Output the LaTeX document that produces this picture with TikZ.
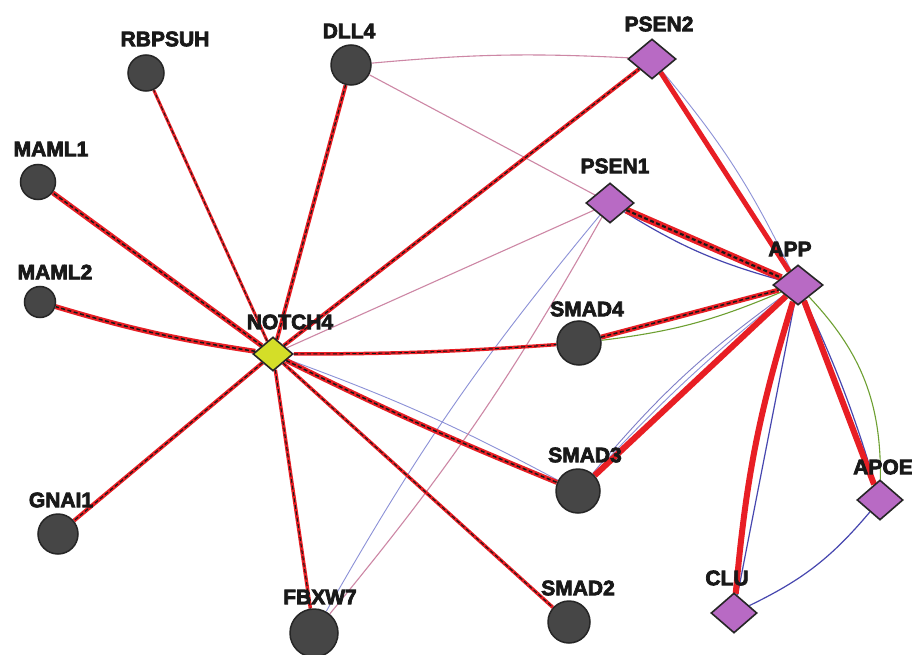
\documentclass[tikz,border=0pt]{standalone}
\usepackage{fontspec}
\setmainfont{Liberation Sans}
\newfontfamily\lblfont{Liberation Sans Bold}[FakeBold=3.5]
\usetikzlibrary{shapes.geometric,backgrounds}
\definecolor{ered}{RGB}{232,30,36}
\definecolor{epink}{RGB}{205,135,165}
\definecolor{eblue}{RGB}{70,70,175}
\definecolor{elblue}{RGB}{140,145,215}
\definecolor{egreen}{RGB}{110,160,50}
\definecolor{ngray}{RGB}{70,70,70}
\definecolor{npurple}{RGB}{184,106,196}
\definecolor{nyellow}{RGB}{212,222,40}
\begin{document}
\begin{tikzpicture}[x=1pt,y=-1pt,
  gn/.style={circle,draw=black!85,line width=1.5pt,fill=ngray,inner sep=0pt,minimum size=#1},
  dm/.style={diamond,draw=black!85,line width=1.6pt,fill=npurple,inner sep=0pt,minimum width=48pt,minimum height=40pt},
  lb/.style={font=\lblfont\fontsize{21}{22}\selectfont,text=black!90,inner sep=0pt},
  re/.style={draw=ered,line width=#1,postaction={draw=black!90,line width=0.3*#1,dash pattern=on 4pt off 2.5pt}},
  rs/.style={draw=ered,line width=#1},
  pk/.style={draw=epink,line width=1.1pt},
  bl/.style={draw=eblue,line width=1.2pt},
  lbl/.style={draw=elblue,line width=0.9pt},
  gr/.style={draw=egreen,line width=1.1pt}]
\useasboundingbox (0,0) rectangle (912,655);
% nodes
\node[gn=36pt] (rbpsuh) at (146,73) {};
\node[gn=40pt] (dll4) at (351,65) {};
\node[gn=35pt] (maml1) at (38,182) {};
\node[gn=31pt] (maml2) at (40,302) {};
\node[gn=40pt] (gnai1) at (58,534) {};
\node[gn=48pt] (fbxw7) at (314,633) {};
\node[gn=44pt] (smad4) at (579,343) {};
\node[gn=44pt] (smad3) at (578,491) {};
\node[gn=42pt] (smad2) at (569,622) {};
\node[dm] (psen2) at (652,59) {};
\node[dm] (psen1) at (610,203) {};
\node[dm,minimum width=50pt] (app) at (798,285) {};
\node[dm,minimum width=46pt] (apoe) at (880,500) {};
\node[dm,minimum width=46pt] (clu) at (734,613) {};
\node[diamond,draw=black!85,line width=1.6pt,fill=nyellow,inner sep=0pt,minimum width=40pt,minimum height=34pt] (notch4) at (273,354) {};
% labels
\node[lb] (lrbpsuh) at (165,39) {RBPSUH};
\node[lb] (ldll4) at (349,31) {DLL4};
\node[lb] (lmaml1) at (51,149) {MAML1};
\node[lb] (lmaml2) at (55,272) {MAML2};
\node[lb] (lgnai1) at (61,500) {GNAI1};
\node[lb] (lfbxw7) at (320,597) {FBXW7};
\node[lb] (lsmad4) at (587,309) {SMAD4};
\node[lb] (lsmad3) at (585,455) {SMAD3};
\node[lb] (lsmad2) at (578,588) {SMAD2};
\node[lb] (lpsen2) at (659,24) {PSEN2};
\node[lb] (lpsen1) at (615,166) {PSEN1};
\node[lb] (lapp) at (790,249) {APP};
\node[lb] (lapoe) at (883,467) {APOE};
\node[lb] (lclu) at (727,578) {CLU};
\node[lb] (lnotch4) at (290,322) {NOTCH4};
% edges
\begin{scope}[on background layer]
\fill[white] (0,0) rectangle (912,655);
\draw[pk] (dll4) to[bend left=4] (psen2);
\draw[pk] (dll4) -- (psen1);
\draw[pk] (notch4) -- (psen1);
\draw[lbl] (notch4) to[bend left=4] (smad3);
\draw[lbl] (psen1) to[bend right=5] (fbxw7);
\draw[pk] (psen1) to[bend left=5] (fbxw7);
\draw[re=3pt] (notch4) -- (rbpsuh);
\draw[re=4pt] (notch4) -- (dll4);
\draw[re=5pt] (notch4) -- (maml1);
\draw[re=5pt] (notch4) to[bend left=4] (maml2);
\draw[re=4pt] (notch4) -- (gnai1);
\draw[re=3.5pt] (notch4) -- (fbxw7);
\draw[re=3.5pt] (notch4) -- (smad2);
\draw[re=5pt] (notch4) to[bend right=2] (smad3);
\draw[re=3.5pt] (notch4) to[bend right=2] (smad4);
\draw[re=4pt] (notch4) -- (psen2);
\draw[lbl] (psen2) to[bend left=7] (app);
\draw[rs=5pt] (psen2) -- (app);
\draw[bl] (psen1) to[bend right=8] (app);
\draw[re=7pt] (psen1) -- (app);
\draw[gr] (smad4) to[bend right=8] (app);
\draw[re=5pt] (smad4) -- (app);
\draw[lbl] (smad3) to[bend left=4] (app);
\draw[lbl,draw=eblue!70] (smad3) to[bend left=7] (app);
\draw[rs=6pt] (smad3) -- (app);
\draw[bl] (app) -- (clu);
\draw[rs=6pt] (app) to[bend right=6] (clu);
\draw[gr] (app) to[bend left=22] (apoe);
\draw[bl] (app) to[bend left=4] (apoe);
\draw[rs=6pt] (app) -- (apoe);
\draw[bl] (apoe) to[bend left=12] (clu);
\end{scope}
\end{tikzpicture}
\end{document}
